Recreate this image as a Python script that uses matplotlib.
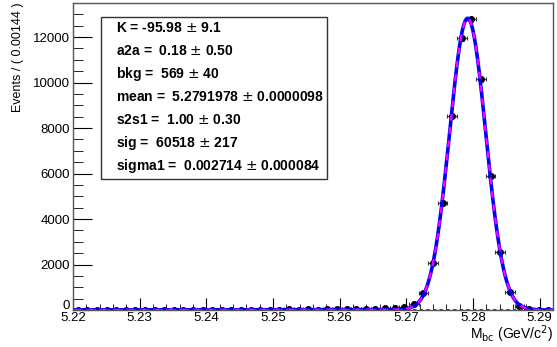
import numpy as np
import matplotlib
matplotlib.use("Agg")
import matplotlib.pyplot as plt
from matplotlib.ticker import MultipleLocator, FuncFormatter

plt.rcParams['font.family'] = ['Liberation Sans', 'DejaVu Sans']

# binning: 50 bins of 0.00144 from 5.22
X_LO = 5.22
BIN_W = 0.00144
N_BINS = 50

# events per bin
counts = [12, 14, 13, 16, 15, 12, 18, 14, 17, 15,
          16, 19, 15, 18, 17, 16, 20, 18, 17, 21,
          19, 18, 22, 20, 24, 21, 25, 28, 30, 35,
          40, 55, 70, 95, 140, 280, 760, 2050, 4720, 8530,
          11960, 12790, 10140, 5900, 2560, 780, 175, 50, 20, 15]

# fit parameters shown in the box
K = -95.98
bkg = 569
mean = 5.2791978
sig = 60518
sigma1 = 0.002714
ARGUS_M0 = 5.29

box_lines = [
    ("K = -95.98", "9.1"),
    ("a2a =  0.18", "0.50"),
    ("bkg =  569", "40"),
    ("mean =  5.2791978", "0.0000098"),
    ("s2s1 =  1.00", "0.30"),
    ("sig =  60518", "217"),
    ("sigma1 =  0.002714", "0.000084"),
]

centers = X_LO + BIN_W * (np.arange(N_BINS) + 0.5)
counts = np.array(counts, dtype=float)
x_hi = X_LO + BIN_W * N_BINS


def argus(m):
    t = 1 - (m / ARGUS_M0) ** 2
    out = np.zeros_like(m)
    ok = t > 0
    out[ok] = m[ok] * np.sqrt(t[ok]) * np.exp(K * t[ok])
    return out


m = np.linspace(X_LO, x_hi, 1500)
fine = np.linspace(X_LO, x_hi, 20000)
norm = np.trapezoid(argus(fine), fine)
bkg_curve = bkg * BIN_W * argus(m) / norm
gaus = sig * BIN_W / (np.sqrt(2 * np.pi) * sigma1) * np.exp(-0.5 * ((m - mean) / sigma1) ** 2)
total = gaus + bkg_curve

fig = plt.figure(figsize=(5.57, 3.47), dpi=100)
ax = fig.add_axes([73 / 557, 37 / 347, 480 / 557, 307 / 347])

ax.errorbar(centers, counts, xerr=BIN_W / 2, yerr=np.sqrt(counts), fmt='o',
            color='black', ms=4, elinewidth=0.8, capsize=1.5, capthick=0.8,
            ecolor='#333333', zorder=2)
ax.plot(m, total, color='blue', lw=2.6, zorder=3)
ax.plot(m, total, color='magenta', lw=1.6, ls=(0, (3, 3)), zorder=4)
ax.plot(m, bkg_curve, color='red', lw=1.2, ls=(0, (2, 2)), zorder=4)

ax.set_xlim(X_LO, x_hi)
ax.set_ylim(0, 13500)
ax.xaxis.set_major_locator(MultipleLocator(0.01))
ax.xaxis.set_minor_locator(MultipleLocator(0.002))
ax.yaxis.set_major_locator(MultipleLocator(2000))
ax.yaxis.set_minor_locator(MultipleLocator(500))
ax.xaxis.set_major_formatter(matplotlib.ticker.FormatStrFormatter('%.2f'))
# the "0" is written separately below, a bit higher, as ROOT does
ax.yaxis.set_major_formatter(FuncFormatter(lambda v, p: "" if v == 0 else "%d" % v))
ax.tick_params(axis='both', which='both', direction='in', labelsize=9.5,
               top=False, right=False)
ax.tick_params(axis='y', which='major', length=14, pad=2)
ax.tick_params(axis='y', which='minor', length=7)
ax.tick_params(axis='x', which='major', length=9, pad=1.5)
ax.tick_params(axis='x', which='minor', length=4.5)
for s in ax.spines.values():
    s.set_color('#555555')
    s.set_linewidth(1)

ax.annotate("0", xy=(0, 0), xycoords='axes fraction', xytext=(-2, 1),
            textcoords='offset points', ha='right', va='baseline', fontsize=9.5)

fig.text(18 / 557, 1 - 3 / 347, "Events / ( 0.00144 )", rotation=90,
         ha='center', va='top', fontsize=9)
fig.text(553 / 557, 1 - 334 / 347, r"M$_{\rm bc}$ (GeV/c$^{2}$)",
         ha='right', va='center', fontsize=10)

# parameter box
box = plt.Rectangle((101 / 557, 1 - 179 / 347), 226 / 557, 162 / 347,
                    transform=fig.transFigure, fill=True, facecolor='white',
                    edgecolor='#333333', lw=1, zorder=5)
fig.patches.append(box)
for i, (left, err) in enumerate(box_lines):
    y = 1 - (28 + 23 * i) / 347
    fig.text(116 / 557, y, left + r" $\pm$ " + err, ha='left', va='center',
             fontsize=10, fontweight='bold', zorder=6)

fig.savefig("out.png", dpi=100)
